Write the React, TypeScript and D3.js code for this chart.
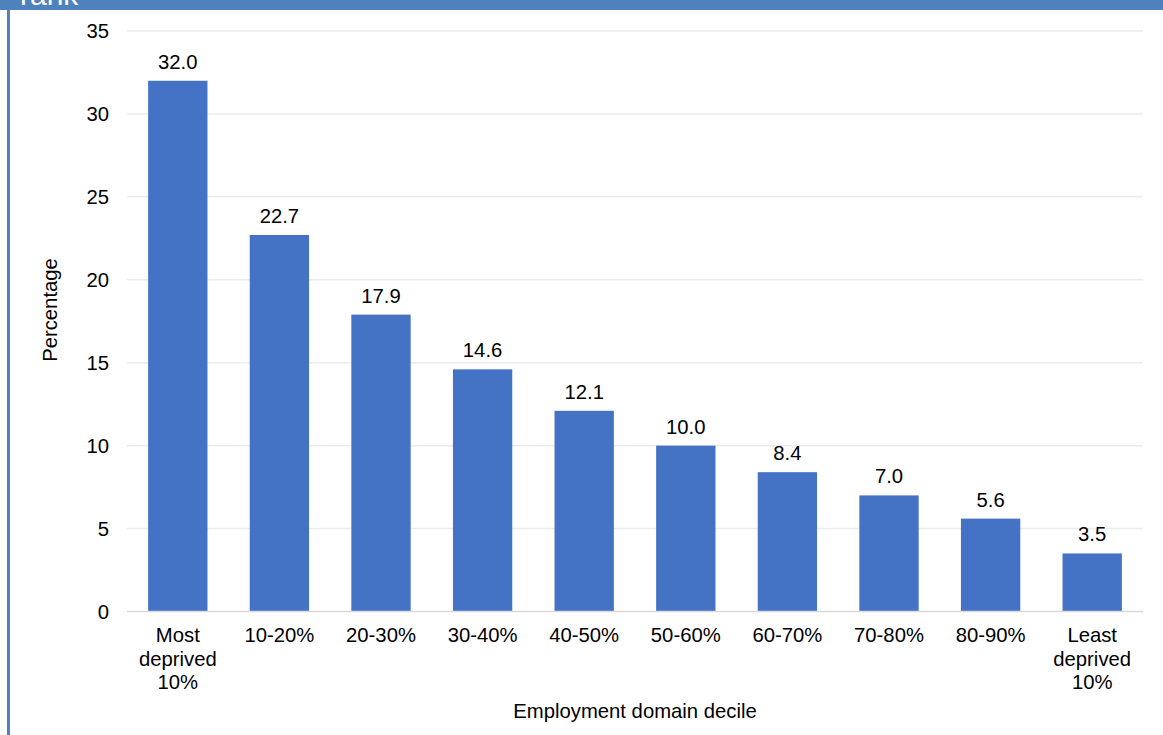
import React from "react";
import * as d3 from "d3";

const categories = [
  "Most\ndeprived\n10%",
  "10-20%",
  "20-30%",
  "30-40%",
  "40-50%",
  "50-60%",
  "60-70%",
  "70-80%",
  "80-90%",
  "Least\ndeprived\n10%",
];
const values = [32.0, 22.7, 17.9, 14.6, 12.1, 10.0, 8.4, 7.0, 5.6, 3.5];
const yTicks = [0, 5, 10, 15, 20, 25, 30, 35];
const xTitle = "Employment domain decile";
const yTitle = "Percentage";
const headerText = "rank";

const W = 1163;
const H = 735;
const plot = { left: 127, right: 1143, top: 31, bottom: 611.5 };
const FONT = "'Liberation Sans', Arial, sans-serif";
const FS = 20.3;

export default function App() {
  const x = d3
    .scaleBand<string>()
    .domain(categories)
    .range([plot.left, plot.right])
    .paddingInner(0.416)
    .paddingOuter(0.208);
  const y = d3.scaleLinear().domain([0, 35]).range([plot.bottom, plot.top]);

  return (
    <div style={{ position: "fixed", left: 0, top: 0 }}>
      <svg width={W} height={H} style={{ display: "block", background: "#fff" }}>
        {/* frame */}
        <rect x={0} y={0} width={W} height={10} fill="#4F81BD" />
        <rect x={7} y={0} width={3} height={H} fill="#4F81BD" />
        <text x={20} y={5} fill="#fff" fontFamily={FONT} fontSize={30}>
          {headerText}
        </text>

        {/* gridlines */}
        {yTicks.map((t) =>
          t === 0 ? null : (
            <line
              key={t}
              x1={plot.left}
              x2={plot.right}
              y1={y(t)}
              y2={y(t)}
              stroke="#ececec"
              strokeWidth={1.5}
            />
          )
        )}

        {/* y tick labels */}
        {yTicks.map((t) => (
          <text
            key={"yl" + t}
            x={109}
            y={y(t)}
            dy="0.35em"
            textAnchor="end"
            fontFamily={FONT}
            fontSize={FS}
            fill="#000"
          >
            {t}
          </text>
        ))}

        {/* bars */}
        {categories.map((c, i) => (
          <rect
            key={c}
            x={x(c)}
            y={y(values[i])}
            width={x.bandwidth()}
            height={y(0) - y(values[i])}
            fill="#4472C4"
          />
        ))}

        {/* value labels */}
        {categories.map((c, i) => (
          <text
            key={"v" + c}
            x={(x(c) as number) + x.bandwidth() / 2}
            y={y(values[i]) - 12}
            textAnchor="middle"
            fontFamily={FONT}
            fontSize={FS}
            fill="#000"
          >
            {values[i].toFixed(1)}
          </text>
        ))}

        {/* axis line */}
        <line
          x1={plot.left}
          x2={plot.right}
          y1={y(0)}
          y2={y(0)}
          stroke="#d9d9d9"
          strokeWidth={1.5}
        />

        {/* category labels */}
        {categories.map((c) => (
          <text
            key={"c" + c}
            textAnchor="middle"
            fontFamily={FONT}
            fontSize={FS}
            fill="#000"
          >
            {c.split("\n").map((line, j) => (
              <tspan key={j} x={(x(c) as number) + x.bandwidth() / 2} y={642 + j * 23.5}>
                {line}
              </tspan>
            ))}
          </text>
        ))}

        {/* axis titles */}
        <text
          x={(plot.left + plot.right) / 2}
          y={718}
          textAnchor="middle"
          fontFamily={FONT}
          fontSize={FS}
          fill="#000"
        >
          {xTitle}
        </text>
        <text
          transform={`translate(57,310) rotate(-90)`}
          textAnchor="middle"
          fontFamily={FONT}
          fontSize={FS}
          fill="#000"
        >
          {yTitle}
        </text>
      </svg>
    </div>
  );
}
